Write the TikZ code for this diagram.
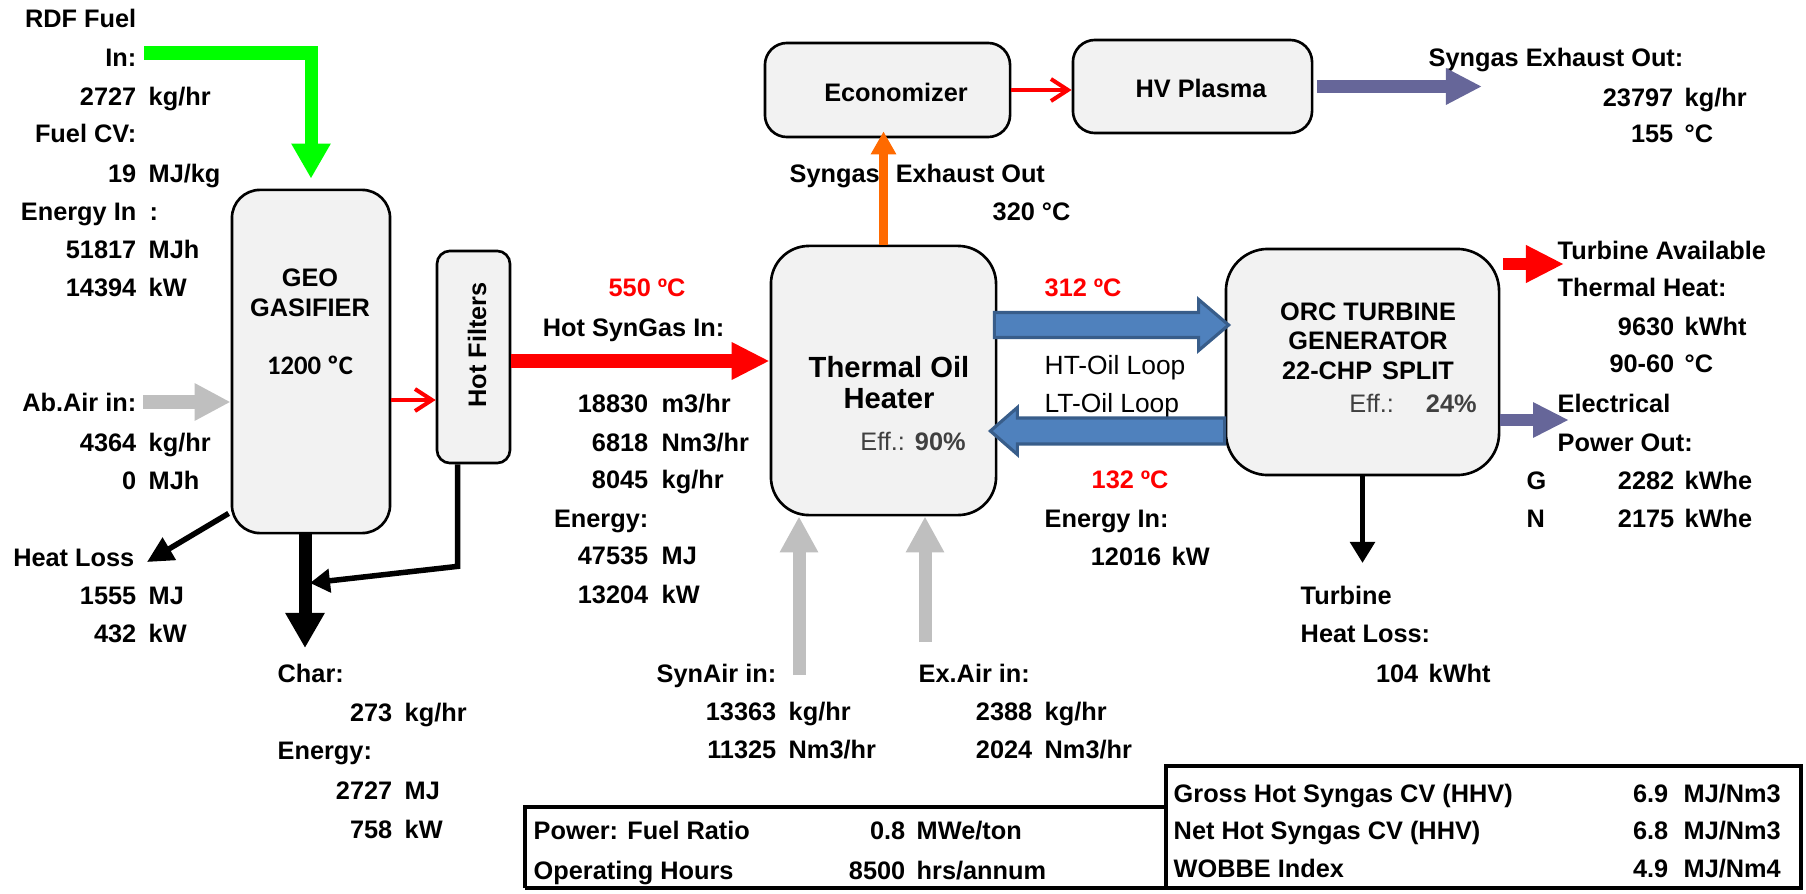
\documentclass[tikz,border=0pt]{standalone}
\usepackage{fontspec}
\setmainfont{Liberation Sans}
\newfontfamily\calfont{Carlito}
\usetikzlibrary{arrows.meta,calc}
\definecolor{boxgrey}{HTML}{F2F2F2}
\definecolor{fuelgreen}{HTML}{00FF00}
\definecolor{airgrey}{HTML}{BFBFBF}
\definecolor{exhorange}{HTML}{FF6A00}
\definecolor{plasmapurple}{HTML}{666699}
\definecolor{oilblue}{HTML}{4F81BD}
\definecolor{oilblueedge}{HTML}{385D8A}
\definecolor{effgrey}{HTML}{404040}
\newcommand\lbl{\fontsize{7.2}{8.6}\selectfont\bfseries}

\begin{document}
\begin{tikzpicture}[x=0.01cm, y=-0.01cm,
    box/.style={draw, line width=0.75pt, fill=boxgrey, rounded corners=0.28cm, inner sep=0pt},
    txt/.style={inner sep=0pt, font=\lbl, text height=5.2pt, text depth=0pt},
    big/.style={txt, font=\fontsize{8.3}{10}\selectfont\bfseries, text height=5.95pt},
    plain/.style={txt, font=\fontsize{7.5}{9}\selectfont},
    hot/.style={txt, text=red},
    fat/.style={line width=0.13cm, -{Triangle[length=0.36cm, width=0.36cm]}},
    slim/.style={line width=0.055cm, -{Triangle[length=0.21cm, width=0.24cm]}},
    thinred/.style={red, line width=0.04cm, -{Straight Barb[length=0.17cm, width=0.22cm]}},
    oil/.style={fill=oilblue, draw=oilblueedge, line width=0.9pt, line join=miter},
    tab/.style={line width=1.1pt}]
  \useasboundingbox (0,0) rectangle (1806,894);

  % process boxes
  \node[box, minimum width=1.58cm, minimum height=3.43cm] (gas) at (311,361.5) {};
  \node[box, minimum width=0.73cm, minimum height=2.12cm, rounded corners=0.13cm] (filt) at (473.5,357) {};
  \node[box, minimum width=2.45cm, minimum height=0.94cm, rounded corners=0.22cm] (eco) at (887.5,90) {};
  \node[box, minimum width=2.39cm, minimum height=0.93cm, rounded corners=0.22cm] (hv) at (1192.5,86.5) {};
  \node[box, minimum width=2.25cm, minimum height=2.69cm, rounded corners=0.38cm] (toh) at (883.5,380.5) {};
  \node[box, minimum width=2.73cm, minimum height=2.26cm, rounded corners=0.42cm] (orc) at (1362.5,362) {};

  \node[txt] (gasT1) at (310,277) {GEO};
  \node[txt] (gasT2) at (310,307) {GASIFIER};
  \node[txt, font=\fontsize{7.6}{9}\selectfont\calfont\bfseries] (gasT3) at (310,365) {1200 ºC};
  \node[txt, rotate=90] (filtT) at (477,345) {Hot Filters};
  \node[txt] (ecoT) at (896,92) {Economizer};
  \node[txt] (hvT) at (1201,88) {HV Plasma};
  \node[big] (tohT1) at (889,367) {Thermal Oil};
  \node[big] (tohT2) at (889,398) {Heater};
  \node[txt, text=effgrey] (tohEff) at (913,441) {{\mdseries Eff.:}\hspace{0.1cm}90\%};
  \node[txt] (orcT1) at (1368,311) {ORC TURBINE};
  \node[txt] (orcT2) at (1368,340) {GENERATOR};
  \node[txt] (orcT3) at (1368,370) {22-CHP\hspace{0.1cm}SPLIT};
  \node[txt, text=effgrey] (orcEff) at (1413,403) {{\mdseries Eff.:}\hspace{0.32cm}24\%};

  % fuel side labels
  \node[txt, anchor=east] (rdf) at (137,18) {RDF Fuel};
  \node[txt, anchor=east] (rdfin) at (137,57) {In:};
  \node[txt, anchor=east] (fcv) at (137,133) {Fuel CV:};
  \node[txt, anchor=east] (ein) at (137,211) {Energy In};
  \node[txt, anchor=west] (einc) at (149,211) {:};
  \node[txt, anchor=east] (abair) at (137,402) {Ab.Air in:};
  \node[txt, anchor=east] (hl) at (135,557) {Heat Loss};
  \foreach \y/\v/\u [count=\i] in {96/2727/{kg/hr}, 173/19/{MJ/kg}, 249/51817/MJh, 287/14394/kW,
      442/4364/{kg/hr}, 480/0/MJh, 595/1555/MJ, 633/432/kW} {
    \node[txt, anchor=east] (lv\i) at (137,\y) {\v};
    \node[txt, anchor=west] (lu\i) at (148,\y) {\u};
  }

  % char labels
  \node[txt, anchor=west] (char) at (277,673) {Char:};
  \node[txt, anchor=west] (chare) at (277,750) {Energy:};
  \foreach \y/\v/\u [count=\i] in {712/273/{kg/hr}, 790/2727/MJ, 829/758/kW} {
    \node[txt, anchor=east] (cv\i) at (393,\y) {\v};
    \node[txt, anchor=west] (cu\i) at (404,\y) {\u};
  }

  % hot syngas labels
  \node[hot] (t550) at (647,287) {550 ºC};
  \node[txt, anchor=east] (hsgin) at (725,327) {Hot SynGas In:};
  \node[txt, anchor=east] (hsge) at (649,518) {Energy:};
  \foreach \y/\v/\u [count=\i] in {403/18830/{m3/hr}, 442/6818/{Nm3/hr}, 479/8045/{kg/hr},
      555/47535/MJ, 594/13204/kW} {
    \node[txt, anchor=east] (sv\i) at (649,\y) {\v};
    \node[txt, anchor=west] (su\i) at (661,\y) {\u};
  }

  % air labels
  \node[txt, anchor=east] (synairT) at (777,673) {SynAir in:};
  \node[txt, anchor=west] (exairT) at (918,673) {Ex.Air in:};
  \foreach \y/\a/\b/\u [count=\i] in {711/13363/2388/{kg/hr}, 749/11325/2024/{Nm3/hr}} {
    \node[txt, anchor=east] (av\i) at (777,\y) {\a};
    \node[txt, anchor=west] (au\i) at (788,\y) {\u};
    \node[txt, anchor=east] (xv\i) at (1033,\y) {\b};
    \node[txt, anchor=west] (xu\i) at (1044,\y) {\u};
  }

  % exhaust labels
  \node[txt, anchor=west] (exh1) at (789,173) {Syngas\hspace{0.16cm}Exhaust Out};
  \node[txt, anchor=west] (exh1t) at (992,211) {320 °C};
  \node[txt, anchor=west] (exh2) at (1428,57) {Syngas Exhaust Out:};
  \node[txt, anchor=east] (exh2v1) at (1674,97) {23797};
  \node[txt, anchor=west] (exh2u1) at (1684,97) {kg/hr};
  \node[txt, anchor=east] (exh2v2) at (1674,133) {155};
  \node[txt, anchor=west] (exh2u2) at (1684,133) {°C};

  % oil loop labels
  \node[hot, anchor=west] (t312) at (1044,287) {312 ºC};
  \node[plain, anchor=west] (htloop) at (1044,365) {HT-Oil Loop};
  \node[plain, anchor=west] (ltloop) at (1044,403) {LT-Oil Loop};
  \node[hot, anchor=west] (t132) at (1091,479) {132 ºC};
  \node[txt, anchor=west] (orcein) at (1044,518) {Energy In:};
  \node[txt, anchor=east] (orceinv) at (1162,556) {12016};
  \node[txt, anchor=west] (orceinu) at (1171,556) {kW};

  % turbine labels
  \node[txt, anchor=west] (thl1) at (1300,595) {Turbine};
  \node[txt, anchor=west] (thl2) at (1300,633) {Heat Loss:};
  \node[txt, anchor=east] (thlv) at (1419,673) {104};
  \node[txt, anchor=west] (thlu) at (1428,673) {kWht};
  \node[txt, anchor=west] (tav1) at (1557,250) {Turbine Available};
  \node[txt, anchor=west] (tav2) at (1557,287) {Thermal Heat:};
  \node[txt, anchor=west] (elo1) at (1557,403) {Electrical};
  \node[txt, anchor=west] (elo2) at (1557,442) {Power Out:};
  \node[txt, anchor=west] (eloG) at (1526,480) {G};
  \node[txt, anchor=west] (eloN) at (1526,518) {N};
  \foreach \y/\v/\u [count=\i] in {326/9630/kWht, 363/90-60/°C, 480/2282/kWhe, 518/2175/kWhe} {
    \node[txt, anchor=east] (rv\i) at (1675,\y) {\v};
    \node[txt, anchor=west] (ru\i) at (1684,\y) {\u};
  }

  % connectors
  \coordinate (fuelin) at (144,53);
  \draw[fat, fuelgreen, -{Triangle[length=0.35cm, width=0.37cm]}, shorten >=0.1cm] (fuelin) -| (gas.north);
  \coordinate (abin) at (143,402);
  \draw[fat, airgrey, -{Triangle[length=0.36cm, width=0.35cm]}] (abin) -- (abin -| gas.west);
  \coordinate (g2f) at (390,400);
  \draw[thinred] (gas.east |- g2f) -- (filt.west |- g2f);
  \coordinate (hsg) at (510,361);
  \draw[fat, red, -{Triangle[length=0.38cm, width=0.35cm]}] (filt.east |- hsg) -- (toh.west |- hsg);
  \draw[slim, -{Triangle[length=0.26cm, width=0.25cm]}] ($(gas.south west)+(-2,-21)$) -- ($(hl.east)+(12,5)$);
  \coordinate (charend) at (305,648);
  \draw[fat, -{Triangle[length=0.35cm, width=0.37cm]}] (gas.south -| charend) -- (charend);
  \coordinate (charjoin) at (310,583);
  \draw[slim, -{Triangle[length=0.2cm, width=0.23cm]}] ($(filt.south)+(-16,0)$) -- ++(0,102) -- (charjoin);
  \draw[line width=0.09cm, exhorange, -{Triangle[length=0.23cm, width=0.24cm]}, shorten >=-0.07cm] (toh.north) -- (toh.north |- eco.south);
  \draw[thinred] (eco.east) -- (eco.east -| hv.west);
  \coordinate (sgout) at (1482,86);
  \draw[line width=0.12cm, plasmapurple, -{Triangle[length=0.36cm, width=0.34cm]}] ($(hv.east)+(4,0)$) -- (hv.east -| sgout);
  \coordinate (synair) at (799,675);
  \draw[fat, airgrey] (synair) -- (synair |- toh.south);
  \coordinate (exair) at (925,642);
  \draw[fat, airgrey] (exair) -- (exair |- toh.south);

  % oil loops
  \coordinate (hta) at (toh.east |- 0,325);
  \coordinate (htb) at (orc.west |- 0,325);
  \filldraw[oil] ($(hta)+(-3,-12.5)$) -- ($(htb)+(-26,-12.5)$) -- ($(htb)+(-26,-25.5)$) -- ($(htb)+(4,0)$)
    -- ($(htb)+(-26,25.5)$) -- ($(htb)+(-26,12.5)$) -- ($(hta)+(-3,12.5)$) -- cycle;
  \coordinate (lta) at (orc.west |- 0,431);
  \coordinate (ltb) at (toh.east |- 0,431);
  \filldraw[oil] ($(lta)+(0,-13)$) -- ($(ltb)+(20,-13)$) -- ($(ltb)+(20,-23.5)$) -- ($(ltb)+(-7,0)$)
    -- ($(ltb)+(20,23.5)$) -- ($(ltb)+(20,13)$) -- ($(lta)+(0,13)$) -- cycle;

  \coordinate (thlend) at (1362,563);
  \draw[slim] (orc.south) -- (orc.south |- thlend);
  \coordinate (theat) at (1564,264);
  \draw[line width=0.12cm, red, -{Triangle[length=0.38cm, width=0.35cm]}] ($(orc.east |- theat)+(3,0)$) -- (theat);
  \coordinate (elec) at (1569,420);
  \draw[line width=0.11cm, plasmapurple, -{Triangle[length=0.36cm, width=0.33cm]}] (orc.east |- elec) -- (elec);

  % tables
  \draw[tab] (525,888) -- (525,807) -- (1166,807);
  \draw[tab] (525,888) -- (1166,888);
  \draw[tab] (1166,766) rectangle (1801,888);
  \node[txt, anchor=west] (pfr) at (533,830) {Power: Fuel Ratio};
  \node[txt, anchor=east] (pfrv) at (906,830) {0.8};
  \node[txt, anchor=west] (pfru) at (916,830) {MWe/ton};
  \node[txt, anchor=west] (oph) at (533,870) {Operating Hours};
  \node[txt, anchor=east] (ophv) at (906,870) {8500};
  \node[txt, anchor=west] (ophu) at (916,870) {hrs/annum};
  \foreach \y/\t/\v/\u [count=\i] in {793/{Gross Hot Syngas CV (HHV)}/6.9/{MJ/Nm3},
      830/{Net Hot Syngas CV (HHV)}/6.8/{MJ/Nm3}, 868/{WOBBE Index}/4.9/{MJ/Nm4}} {
    \node[txt, anchor=west] (cvt\i) at (1173,\y) {\t};
    \node[txt, anchor=east] (cvv\i) at (1669,\y) {\v};
    \node[txt, anchor=west] (cvu\i) at (1683,\y) {\u};
  }
\end{tikzpicture}
\end{document}
